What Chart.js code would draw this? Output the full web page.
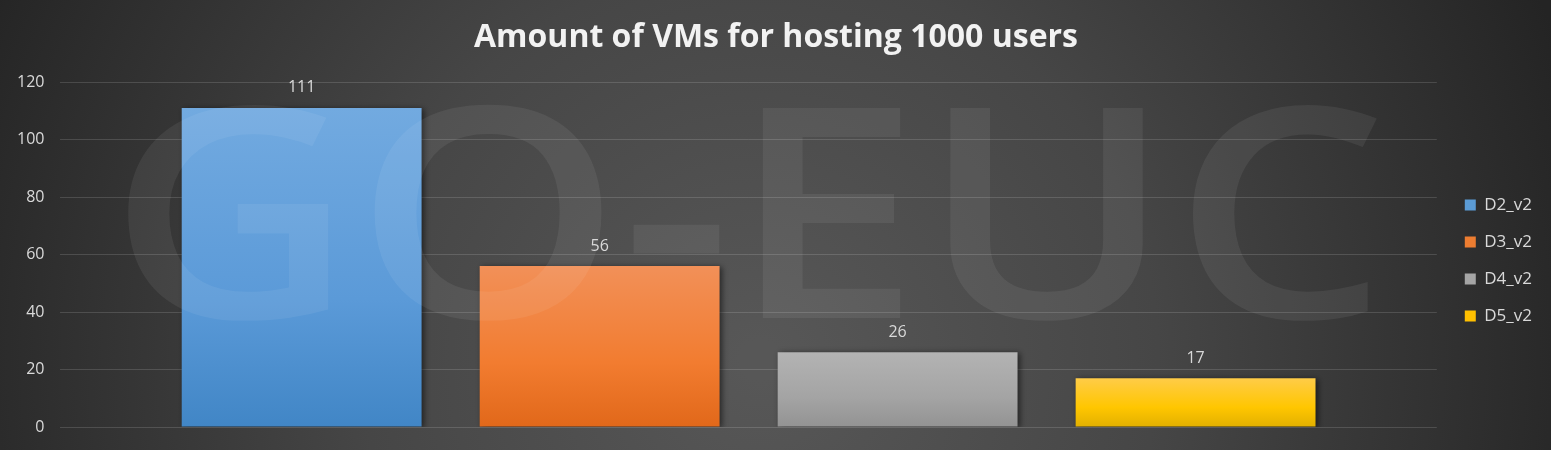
<!DOCTYPE html>
<html>
<head>
<meta charset="utf-8">
<script src="https://cdn.jsdelivr.net/npm/chart.js@4.4.0/dist/chart.umd.min.js"></script>
<style>
  html, body { margin: 0; padding: 0; background: #333; }
  #wrap { width: 1551px; height: 450px; }
</style>
</head>
<body>
<div id="wrap"><canvas id="vm_chart"></canvas></div>
<script>
'use strict'

// chart data
const categories = [''];
const seriesLabels = ['D2_v2', 'D3_v2', 'D4_v2', 'D5_v2'];
const vmCounts = [111, 56, 26, 17];
const yMin = 0;
const yMax = 120;
const yStep = 20;

// colours (top / mid / bottom of the bar gradient, plus flat legend colour)
const barTop = ['#72aae0', '#f29058', '#b3b3b3', '#ffcc48'];
const barMid = ['#5b9ad8', '#f27c30', '#a4a4a4', '#ffc600'];
const barBottom = ['#4186c6', '#e1681a', '#939393', '#e2b000'];
const legendColors = ['#5b9bd5', '#ed7d31', '#a5a5a5', '#ffc000'];

const FONT = '"Open Sans", "DejaVu Sans", sans-serif';
const TEXT_COLOR = '#d9d9d9';

const barFill = (i) => (context) => {
    const chart = context.chart;
    const area = chart.chartArea;
    if (!area) return legendColors[i];
    const y = chart.scales.y;
    const v = context.raw == null ? 0 : context.raw;
    const top = y.getPixelForValue(v);
    const bottom = y.getPixelForValue(0);
    if (bottom - top < 1) return barMid[i];
    const g = chart.ctx.createLinearGradient(0, top, 0, bottom);
    g.addColorStop(0, barTop[i]);
    g.addColorStop(0.6, barMid[i]);
    g.addColorStop(1, barBottom[i]);
    return g;
};

const backgroundPlugin = {
    id: 'bg',
    beforeDraw: (chart) => {
        const { ctx, width, height } = chart;
        ctx.save();
        const g = ctx.createRadialGradient(760, 360, 20, 760, 360, 860);
        g.addColorStop(0, '#575757');
        g.addColorStop(0.45, '#464646');
        g.addColorStop(1, '#242424');
        ctx.fillStyle = g;
        ctx.fillRect(0, 0, width, height);
        ctx.restore();
    }
};

// nudge the legend and the title a little, as in the original
const nudgePlugin = {
    id: 'nudge',
    afterLayout: (chart) => {
        const lg = chart.legend;
        if (lg) {
            lg.left += 8; lg.right += 8;
            lg.top += 47; lg.bottom += 47;
        }
        const tb = chart.titleBlock;
        if (tb) {
            tb.left += 2; tb.right += 2;
        }
    }
};

const shadowPlugin = {
    id: 'barShadow',
    beforeDatasetDraw: (chart) => {
        const ctx = chart.ctx;
        ctx.save();
        ctx.shadowColor = 'rgba(0,0,0,0.55)';
        ctx.shadowBlur = 6;
        ctx.shadowOffsetX = 2;
        ctx.shadowOffsetY = 1;
    },
    afterDatasetDraw: (chart) => {
        chart.ctx.restore();
    }
};

const watermarkPlugin = {
    id: 'watermark',
    afterDatasetsDraw: (chart) => {
        const ctx = chart.ctx;
        ctx.save();
        ctx.font = '600 294px ' + FONT;
        ctx.fillStyle = 'rgba(255,255,255,0.065)';
        ctx.textBaseline = 'alphabetic';
        const text = 'GO-EUC';
        const w = ctx.measureText(text).width;
        const sx = 1280 / w;
        ctx.translate(108, 318);
        ctx.scale(sx, 1);
        ctx.fillText(text, 0, 0);
        ctx.restore();
    }
};

const valueLabelPlugin = {
    id: 'valueLabels',
    afterDatasetsDraw: (chart) => {
        const ctx = chart.ctx;
        ctx.save();
        ctx.font = '16px ' + FONT;
        ctx.fillStyle = TEXT_COLOR;
        ctx.textAlign = 'center';
        ctx.textBaseline = 'middle';
        chart.data.datasets.forEach((ds, i) => {
            const meta = chart.getDatasetMeta(i);
            meta.data.forEach((bar, j) => {
                ctx.fillText(String(ds.data[j]), bar.x, bar.y - 20);
            });
        });
        ctx.restore();
    }
};

const ctx = document.getElementById('vm_chart').getContext('2d');

const chart = new Chart(ctx, {
    type: 'bar',
    data: {
        labels: categories,
        datasets: seriesLabels.map((label, i) => ({
            label: label,
            data: [vmCounts[i]],
            backgroundColor: barFill(i),
            borderWidth: 0,
            categoryPercentage: 0.866,
            barPercentage: 0.805
        }))
    },
    options: {
        responsive: true,
        maintainAspectRatio: false,
        animation: false,
        layout: { padding: { left: 14, right: 17, top: 0, bottom: 23 } },
        scales: {
            x: {
                display: false
            },
            y: {
                min: yMin,
                max: yMax,
                border: { display: false },
                grid: {
                    color: 'rgba(255,255,255,0.14)',
                    lineWidth: 1,
                    drawTicks: true,
                    tickLength: 13,
                    tickColor: 'rgba(0,0,0,0)'
                },
                ticks: {
                    stepSize: yStep,
                    padding: 3,
                    color: TEXT_COLOR,
                    font: { family: FONT, size: 16 }
                }
            }
        },
        plugins: {
            title: {
                display: true,
                text: 'Amount of VMs for hosting 1000 users',
                color: '#f2f2f2',
                font: { family: FONT, size: 32, weight: '700' },
                padding: { top: 19, bottom: 24.6 }
            },
            legend: {
                position: 'right',
                labels: {
                    color: TEXT_COLOR,
                    font: { family: FONT, size: 17 },
                    boxWidth: 11,
                    boxHeight: 11,
                    padding: 20,
                    generateLabels: (c) => {
                        const items = Chart.defaults.plugins.legend.labels.generateLabels(c);
                        items.forEach((it, i) => {
                            it.fillStyle = legendColors[i];
                            it.strokeStyle = legendColors[i];
                            it.lineWidth = 0;
                        });
                        return items;
                    }
                }
            },
            tooltip: { enabled: false }
        }
    },
    plugins: [backgroundPlugin, nudgePlugin, shadowPlugin, watermarkPlugin, valueLabelPlugin]
});
</script>
</body>
</html>
